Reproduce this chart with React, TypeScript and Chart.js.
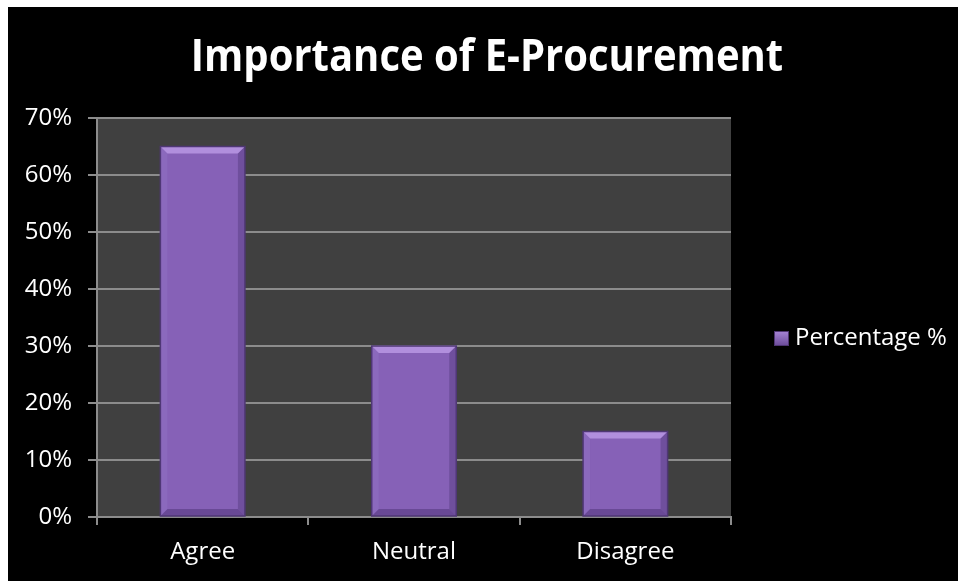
import React, { useEffect, useRef } from "react";
import { Chart, registerables } from "chart.js";

Chart.register(...registerables);

const categories = ["Agree", "Neutral", "Disagree"];
const percentages = [65, 30, 15];
const seriesLabel = "Percentage %";
const chartTitle = "Importance of E-Procurement";
const yTicks = [0, 10, 20, 30, 40, 50, 60, 70];

const FONT = "'Open Sans', 'Noto Sans', sans-serif";

export default function App() {
  const ref = useRef<HTMLCanvasElement | null>(null);

  useEffect(() => {
    if (!ref.current) return;
    const decor = {
      id: "decor",
      beforeDraw(chart: any) {
        const { ctx, width, height, chartArea } = chart;
        ctx.save();
        ctx.fillStyle = "#ffffff";
        ctx.fillRect(0, 0, width, height);
        ctx.fillStyle = "#000000";
        ctx.fillRect(8, 7, width - 8, height - 7);
        ctx.fillStyle = "#404040";
        ctx.fillRect(chartArea.left, chartArea.top, chartArea.right - chartArea.left, chartArea.bottom - chartArea.top);
        ctx.restore();
      },
      afterDatasetsDraw(chart: any) {
        const { ctx } = chart;
        const meta = chart.getDatasetMeta(0);
        ctx.save();
        meta.data.forEach((bar: any) => {
          const w = bar.width;
          const l = bar.x - w / 2;
          const r = bar.x + w / 2;
          const t = bar.y;
          const b = bar.base;
          const d = 7;
          // top bevel
          ctx.fillStyle = "#b18fdd";
          ctx.beginPath();
          ctx.moveTo(l, t);
          ctx.lineTo(r, t);
          ctx.lineTo(r - d, t + d);
          ctx.lineTo(l + d, t + d);
          ctx.closePath();
          ctx.fill();
          // side bevels
          ctx.fillStyle = "rgba(70,45,110,0.35)";
          ctx.beginPath();
          ctx.moveTo(r, t);
          ctx.lineTo(r, b);
          ctx.lineTo(r - d, b - d);
          ctx.lineTo(r - d, t + d);
          ctx.closePath();
          ctx.fill();
          ctx.fillStyle = "rgba(70,45,110,0.45)";
          ctx.beginPath();
          ctx.moveTo(l, b);
          ctx.lineTo(r, b);
          ctx.lineTo(r - d, b - d);
          ctx.lineTo(l + d, b - d);
          ctx.closePath();
          ctx.fill();
          ctx.fillStyle = "rgba(150,120,200,0.35)";
          ctx.beginPath();
          ctx.moveTo(l, t);
          ctx.lineTo(l + d, t + d);
          ctx.lineTo(l + d, b - d);
          ctx.lineTo(l, b);
          ctx.closePath();
          ctx.fill();
          ctx.strokeStyle = "#4f3775";
          ctx.lineWidth = 1.5;
          ctx.strokeRect(l, t, w, b - t);
        });
        ctx.restore();
      },
      afterDraw(chart: any) {
        const { ctx } = chart;
        ctx.save();
        ctx.fillStyle = "#ffffff";
        ctx.font = `bold 40px ${FONT}`;
        ctx.textAlign = "center";
        ctx.textBaseline = "middle";
        ctx.translate(487, 58);
        ctx.scale(1, 1.12);
        ctx.fillText(chartTitle, 0, 0);
        ctx.restore();
        ctx.save();
        // legend
        const lx = 774, ly = 331, s = 15;
        const g = ctx.createLinearGradient(lx, ly, lx, ly + s);
        g.addColorStop(0, "#a684d6");
        g.addColorStop(1, "#6a4a98");
        ctx.fillStyle = g;
        ctx.fillRect(lx, ly, s, s);
        ctx.strokeStyle = "#4e3572";
        ctx.lineWidth = 1;
        ctx.strokeRect(lx + 0.5, ly + 0.5, s - 1, s - 1);
        ctx.fillStyle = "#ffffff";
        ctx.font = `24px ${FONT}`;
        ctx.textAlign = "left";
        ctx.textBaseline = "middle";
        ctx.fillText(chart.data.datasets[0].label, 795, 338);
        ctx.restore();
      },
    };

    const chart = new Chart(ref.current, {
      type: "bar",
      data: {
        labels: categories,
        datasets: [
          {
            label: seriesLabel,
            data: percentages,
            backgroundColor: "#8661b7",
            borderWidth: 0,
            barPercentage: 0.4,
            categoryPercentage: 1,
          },
        ],
      },
      options: {
        responsive: false,
        animation: false,
        layout: { padding: { top: 118, left: 0, right: 227, bottom: 0 } },
        plugins: {
          legend: { display: false },
          title: { display: false },
          tooltip: { enabled: false },
        },
        scales: {
          x: {
            grid: {
              offset: true,
              drawOnChartArea: false,
              drawTicks: true,
              tickLength: 8,
              color: "#8c8c8c",
              lineWidth: 2,
            },
            border: { color: "#8c8c8c", width: 2 },
            ticks: {
              color: "#ffffff",
              font: { family: FONT, size: 24 },
              padding: 13,
            },
            afterFit: (scale: any) => {
              scale.height = 64;
            },
          },
          y: {
            min: 0,
            max: 70,
            afterBuildTicks: (scale: any) => {
              scale.ticks = yTicks.map((v) => ({ value: v }));
            },
            grid: {
              color: "#8c8c8c",
              lineWidth: 2,
              tickLength: 9,
            },
            border: { color: "#8c8c8c", width: 2 },
            ticks: {
              color: "#ffffff",
              font: { family: FONT, size: 24 },
              padding: 16,
              callback: (v: any) => `${v}%`,
            },
            afterFit: (scale: any) => {
              scale.width = 97;
            },
          },
        },
      },
      plugins: [decor],
    });
    return () => chart.destroy();
  }, []);

  return (
    <div style={{ position: "absolute", left: 0, top: 0, width: 958, height: 581 }}>
      <canvas ref={ref} width={958} height={581} style={{ display: "block" }} />
    </div>
  );
}
